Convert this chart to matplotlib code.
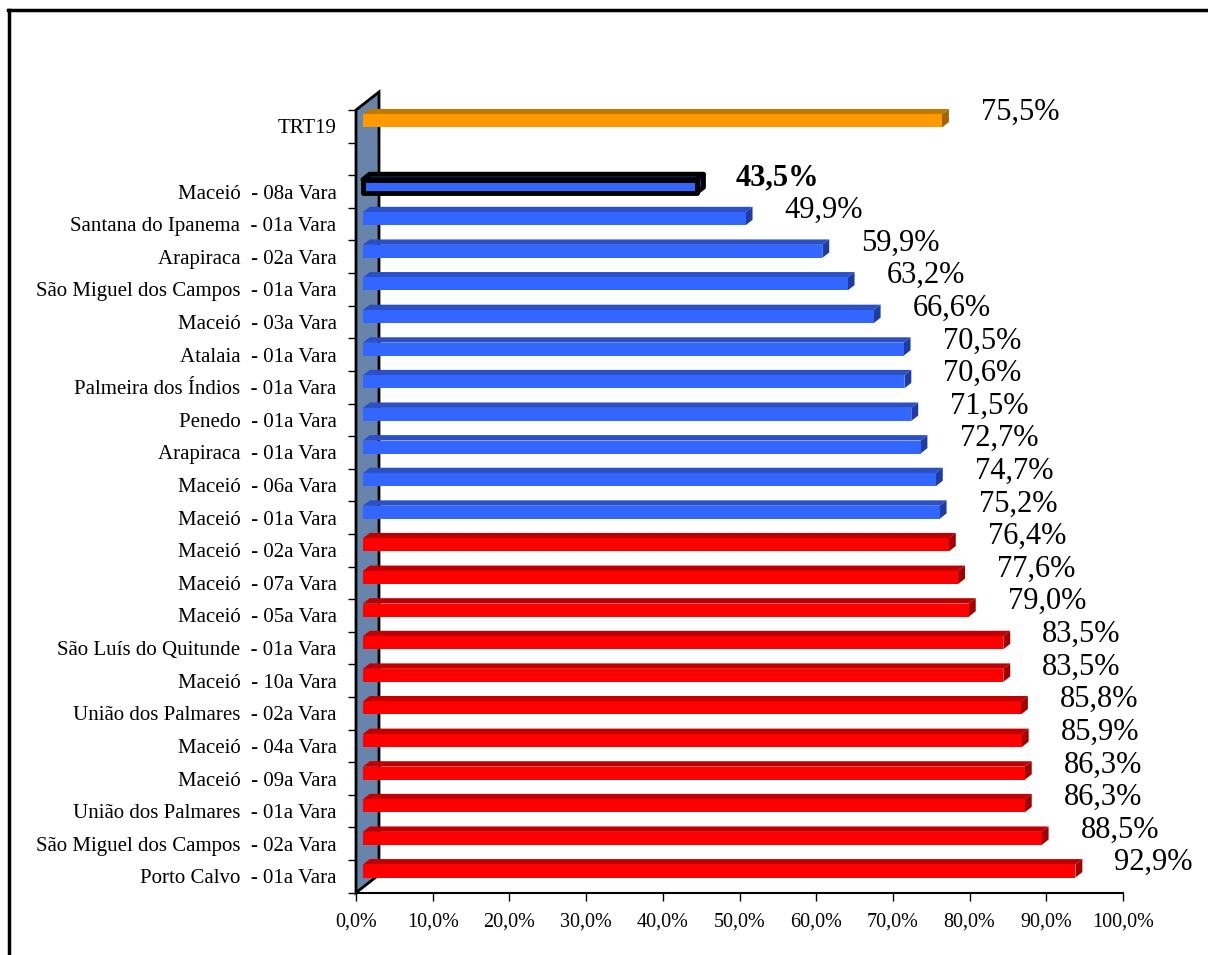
import numpy as np
import matplotlib
matplotlib.use("Agg")
import matplotlib.pyplot as plt
from matplotlib.patches import Polygon

plt.rcParams['font.family'] = ['Liberation Serif', 'DejaVu Serif']

# categories from bottom to top ('' is the empty slot above the varas)
labels = ['Porto Calvo  - 01a Vara', 'São Miguel dos Campos  - 02a Vara',
          'União dos Palmares  - 01a Vara', 'Maceió  - 09a Vara',
          'Maceió  - 04a Vara', 'União dos Palmares  - 02a Vara',
          'Maceió  - 10a Vara', 'São Luís do Quitunde  - 01a Vara',
          'Maceió  - 05a Vara', 'Maceió  - 07a Vara', 'Maceió  - 02a Vara',
          'Maceió  - 01a Vara', 'Maceió  - 06a Vara', 'Arapiraca  - 01a Vara',
          'Penedo  - 01a Vara', 'Palmeira dos Índios  - 01a Vara',
          'Atalaia  - 01a Vara', 'Maceió  - 03a Vara',
          'São Miguel dos Campos  - 01a Vara', 'Arapiraca  - 02a Vara',
          'Santana do Ipanema  - 01a Vara', 'Maceió  - 08a Vara', '', 'TRT19']
values = [0.929, 0.885, 0.863, 0.863, 0.859, 0.858, 0.835, 0.835, 0.790,
          0.776, 0.764, 0.752, 0.747, 0.727, 0.715, 0.706, 0.705, 0.666,
          0.632, 0.599, 0.499, 0.435, None, 0.755]
value_text = ['92,9%', '88,5%', '86,3%', '86,3%', '85,9%', '85,8%', '83,5%',
              '83,5%', '79,0%', '77,6%', '76,4%', '75,2%', '74,7%', '72,7%',
              '71,5%', '70,6%', '70,5%', '66,6%', '63,2%', '59,9%', '49,9%',
              '43,5%', '', '75,5%']
highlight = 'Maceió  - 08a Vara'
reference = 'TRT19'

W, H = 1208, 955
fig = plt.figure(figsize=(W / 100, H / 100), dpi=100)
ax_l, ax_b, ax_r, ax_t = 356, 892.7, 1123, 110
ax = fig.add_axes([ax_l / W, 1 - ax_b / H, (ax_r - ax_l) / W, (ax_b - ax_t) / H])
n = len(labels)
ax.set_xlim(0, 1)
ax.set_ylim(0, n)

# 3d depth in data units
slot_px = (ax_b - ax_t) / n
DX = 23 / (ax_r - ax_l)
DY = 18 / slot_px
d0, d1 = 0.3, 0.6
half = 0.2

wall = Polygon([(0, 0), (0, n), (DX, n + DY), (DX, DY)], closed=True,
               facecolor='#6884aa', edgecolor='black', lw=2, clip_on=False, zorder=1)
ax.add_patch(wall)

colors = {
    'red': ('#ff0000', '#c00000', '#a00000'),
    'blue': ('#3366ff', '#2a50c4', '#1f3ca0'),
    'orange': ('#ff9900', '#c07800', '#a36400'),
}

for i, (lab, v, txt) in enumerate(zip(labels, values, value_text)):
    if v is None:
        continue
    if lab == reference:
        front, top, side = colors['orange']
    elif v > values[-1]:
        front, top, side = colors['red']
    else:
        front, top, side = colors['blue']
    c = i + 0.5
    x0, x1 = d0 * DX, v + d0 * DX
    y0, y1 = c - half + d0 * DY, c + half + d0 * DY
    ddx, ddy = (d1 - d0) * DX, (d1 - d0) * DY
    hl = lab == highlight
    ec = 'black' if hl else 'none'
    lw = 3.5 if hl else 0
    faces = [
        ([(x0, y1), (x1, y1), (x1 + ddx, y1 + ddy), (x0 + ddx, y1 + ddy)], top),
        ([(x1, y0), (x1, y1), (x1 + ddx, y1 + ddy), (x1 + ddx, y0 + ddy)], side),
        ([(x0, y0), (x1, y0), (x1, y1), (x0, y1)], front),
    ]
    for pts, fc in faces:
        ax.add_patch(Polygon(pts, closed=True, facecolor=fc, edgecolor=ec, lw=lw,
                             joinstyle='round', clip_on=False, zorder=3))
    ax.text(x1 + 39 / (ax_r - ax_l), c + 0.42, txt, fontsize=22, ha='left', va='center',
            fontweight='bold' if hl else 'normal', zorder=4, clip_on=False)

# axes styling
for s in ['top', 'right', 'left']:
    ax.spines[s].set_visible(False)
ax.spines['bottom'].set_linewidth(1.5)
ax.set_xticks(np.arange(0, 1.01, 0.1))
ax.set_xticklabels(['%.1f%%' % (t * 100) for t in np.arange(0, 1.01, 0.1)])
ax.set_xticklabels([l.get_text().replace('.', ',') for l in ax.get_xticklabels()])
ax.tick_params(axis='x', length=6, width=1, direction='out', labelsize=14.5, pad=8)
ax.set_yticks(np.arange(0, n + 1))
ax.set_yticklabels([])
ax.set_yticks(np.arange(n) + 0.5, minor=True)
ax.set_yticklabels(labels, minor=True)
ax.tick_params(axis='y', which='major', length=6, width=1, direction='out')
ax.tick_params(axis='y', which='minor', length=0, pad=14, labelsize=15)
ax.set_facecolor('none')

# outer chart border (cropped at right and bottom)
fig.add_artist(plt.Line2D([9 / W, 9 / W], [1 - 10 / H, 0], color='black', lw=2.5))
fig.add_artist(plt.Line2D([8 / W, 1], [1 - 10 / H, 1 - 10 / H], color='black', lw=2.5))

fig.savefig('out.png', dpi=100, facecolor='white')
